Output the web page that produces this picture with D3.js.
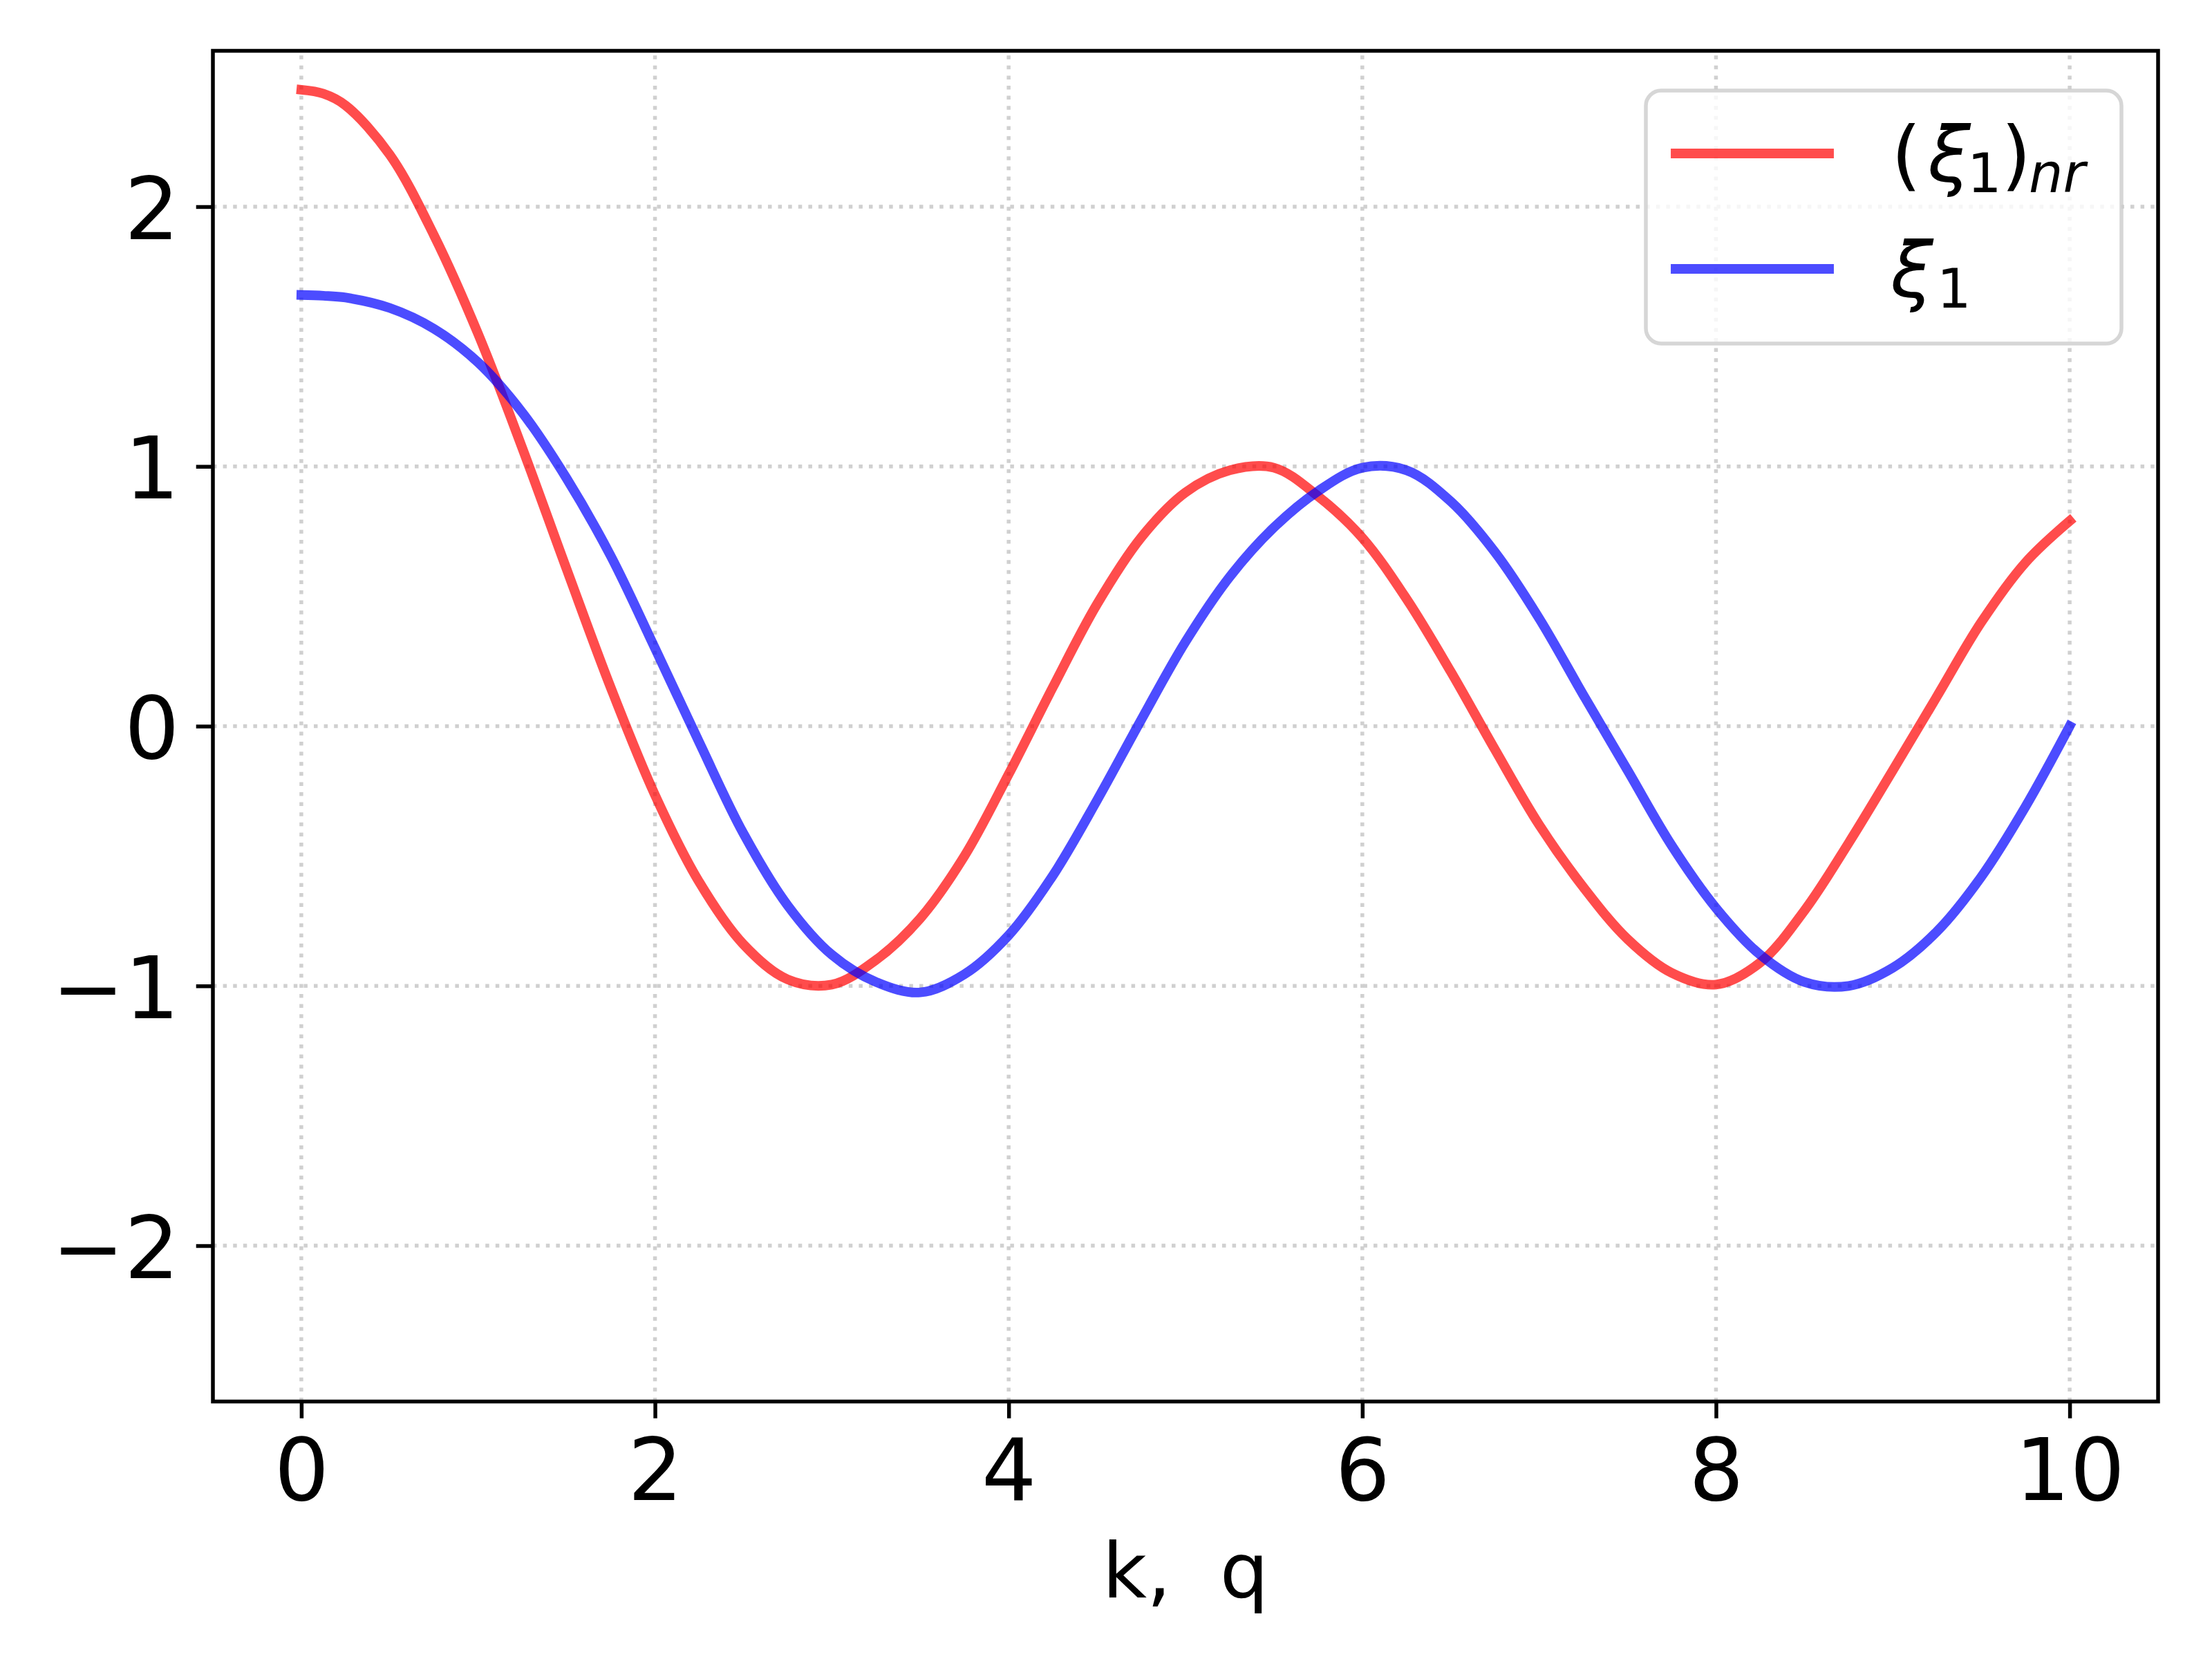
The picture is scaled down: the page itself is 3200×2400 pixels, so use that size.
<!DOCTYPE html>
<meta charset="utf-8">
<style>
    body { margin: 0; background: #fff; }
    text { font-family: "DejaVu Sans", sans-serif; fill: #000; }
    .grid line { stroke: #d0d0d0; stroke-width: 5.5px; stroke-dasharray: 5.5 9.1; }
    .curve { fill: none; stroke-width: 13.9px; stroke-linecap: square; stroke-linejoin: round; stroke-opacity: 0.7; }
    .tick line { stroke: #000; stroke-width: 5.5px; }
</style>
<script src="https://d3js.org/d3.v7.min.js"></script>
<body>
<div id="chart"></div>
<script>
    // k samples and the two curves
    var kValues = [0, 0.125, 0.25, 0.5, 0.75, 1, 1.25, 1.5, 1.75, 2, 2.25, 2.5, 2.75, 3, 3.25, 3.5, 3.75,
        4, 4.25, 4.5, 4.75, 5, 5.25, 5.5, 5.75, 6, 6.25, 6.5, 6.75, 7, 7.25, 7.5, 7.75,
        8, 8.25, 8.5, 8.75, 9, 9.25, 9.5, 9.75, 10];
    var xiNr = [2.45, 2.435, 2.39, 2.20, 1.89, 1.51, 1.07, 0.605, 0.148, -0.265, -0.60, -0.84, -0.975, -0.995, -0.90, -0.74, -0.50,
        -0.185, 0.15, 0.47, 0.727, 0.90, 0.985, 0.995, 0.885, 0.725, 0.49, 0.21, -0.09, -0.38, -0.62, -0.82, -0.95,
        -0.995, -0.91, -0.71, -0.45, -0.17, 0.115, 0.40, 0.63, 0.79];
    var xi = [1.66, 1.657, 1.65, 1.61, 1.53, 1.40, 1.207, 0.954, 0.655, 0.30, -0.062, -0.413, -0.69, -0.88, -0.985, -1.025, -0.955,
        -0.805, -0.575, -0.285, 0.025, 0.325, 0.575, 0.765, 0.905, 0.995, 0.985, 0.865, 0.67, 0.415, 0.12, -0.17, -0.46,
        -0.70, -0.88, -0.985, -1.0, -0.93, -0.79, -0.58, -0.31, 0.0];
    var xTicks = [0, 2, 4, 6, 8, 10];
    var yTicks = [-2, -1, 0, 1, 2];
    var xLabel = "k,  q";

    var svg = d3.select("#chart")
        .append("svg")
        .attr("width", 3200)
        .attr("height", 2400);

    svg.append("rect").attr("width", 3200).attr("height", 2400).attr("fill", "#fff");

    var margin = {top: 73.5, left: 308, right: 78, bottom: 372.5},
        width = 3200 - margin.left - margin.right,
        height = 2400 - margin.top - margin.bottom;

    var x = d3.scaleLinear().domain([-0.5, 10.5]).range([0, width]),
        y = d3.scaleLinear().domain([-2.6, 2.6]).range([height, 0]);

    var g = svg.append("g")
        .attr("transform", "translate(" + margin.left + "," + margin.top + ")");

    // grid
    var grid = g.append("g").attr("class", "grid");
    grid.selectAll(".gx").data(xTicks).enter().append("line")
        .attr("x1", d => x(d)).attr("x2", d => x(d))
        .attr("y1", height).attr("y2", 0);
    grid.selectAll(".gy").data(yTicks).enter().append("line")
        .attr("x1", 0).attr("x2", width)
        .attr("y1", d => y(d)).attr("y2", d => y(d));

    // curves
    var line = d3.line()
        .x(function(d) { return x(d[0]); })
        .y(function(d) { return y(d[1]); })
        .curve(d3.curveCatmullRom.alpha(0.5));

    var series = [
        {name: "nr", color: "#ff0000", values: xiNr},
        {name: "xi", color: "#0000ff", values: xi}
    ];

    series.forEach(function(s) {
        g.append("path")
            .datum(kValues.map((k, i) => [k, s.values[i]]))
            .attr("class", "curve")
            .attr("stroke", s.color)
            .attr("d", line);
    });

    // axes
    var xAxis = d3.axisBottom(x).tickValues(xTicks).tickFormat(d3.format("d"))
        .tickSize(24.3).tickPadding(29);
    var yAxis = d3.axisLeft(y).tickValues(yTicks).tickFormat(d3.format("d"))
        .tickSize(24.3).tickPadding(24.3);

    var gx = g.append("g")
        .attr("transform", "translate(0," + height + ")")
        .call(xAxis);
    var gy = g.append("g").call(yAxis);

    [gx, gy].forEach(function(a) {
        a.select(".domain").remove();
        a.selectAll("text").style("font-size", "125px").attr("font-family", null);
        a.attr("font-family", null).attr("font-size", null);
    });
    gy.selectAll("text").attr("dy", "0.37em");

    // spines
    g.append("rect")
        .attr("width", width).attr("height", height)
        .attr("fill", "none").attr("stroke", "#000").attr("stroke-width", 5.5);

    // x label
    g.append("text")
        .attr("x", width / 2)
        .attr("y", 2311 - margin.top)
        .attr("text-anchor", "middle")
        .style("font-size", "111px")
        .style("white-space", "pre")
        .text(xLabel);

    // legend
    var legend = g.append("g");
    legend.append("rect")
        .attr("x", 2073).attr("y", 57.5)
        .attr("width", 688).attr("height", 366)
        .attr("rx", 22).attr("ry", 22)
        .attr("fill", "#fff").attr("fill-opacity", 0.8)
        .attr("stroke", "#cccccc").attr("stroke-opacity", 0.8)
        .attr("stroke-width", 5.5);

    var rows = [148.5, 315.5];
    series.forEach(function(s, i) {
        legend.append("line")
            .attr("x1", 2116).attr("x2", 2338)
            .attr("y1", rows[i]).attr("y2", rows[i])
            .attr("stroke", s.color).attr("stroke-opacity", 0.7)
            .attr("stroke-width", 13.9).attr("stroke-linecap", "square");
    });

    var t1 = legend.append("text").style("font-size", "111px");
    var b1 = rows[0] + 39.5;
    t1.append("tspan").attr("x", 2428).attr("y", b1).text("(");
    t1.append("tspan").attr("x", 2481).attr("y", b1).style("font-style", "italic").text("ξ");
    t1.append("tspan").attr("x", 2538).attr("y", b1 + 16.5).style("font-size", "78px").text("1");
    t1.append("tspan").attr("x", 2587).attr("y", b1).text(")");
    t1.append("tspan").attr("x", 2627).attr("y", b1 + 16.5).style("font-size", "78px")
        .style("font-style", "italic").text("nr");

    var t2 = legend.append("text").style("font-size", "111px");
    var b2 = rows[1] + 39.5;
    t2.append("tspan").attr("x", 2427).attr("y", b2).style("font-style", "italic").text("ξ");
    t2.append("tspan").attr("x", 2494).attr("y", b2 + 16.5).style("font-size", "78px").text("1");
</script>
</body>
